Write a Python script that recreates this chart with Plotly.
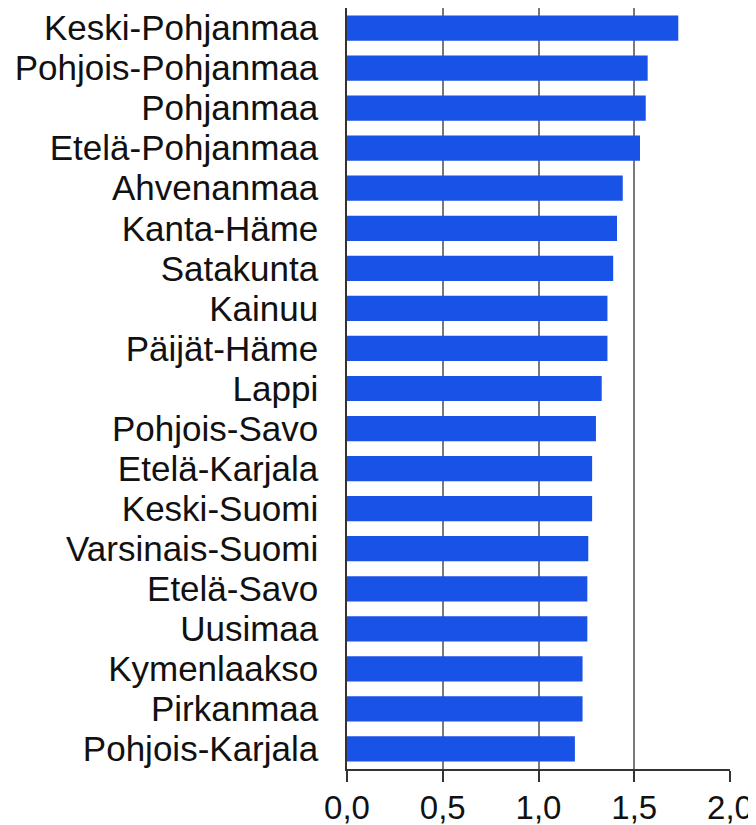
import plotly.graph_objects as go

regions = [
    "Keski-Pohjanmaa", "Pohjois-Pohjanmaa", "Pohjanmaa", "Etelä-Pohjanmaa",
    "Ahvenanmaa", "Kanta-Häme", "Satakunta", "Kainuu", "Päijät-Häme", "Lappi",
    "Pohjois-Savo", "Etelä-Karjala", "Keski-Suomi", "Varsinais-Suomi",
    "Etelä-Savo", "Uusimaa", "Kymenlaakso", "Pirkanmaa", "Pohjois-Karjala",
]
values = [
    1.73, 1.57, 1.56, 1.53,
    1.44, 1.41, 1.39, 1.36, 1.36, 1.33,
    1.30, 1.28, 1.28, 1.26,
    1.255, 1.255, 1.23, 1.23, 1.19,
]
x_ticks = [0.0, 0.5, 1.0, 1.5, 2.0]

BAR_BLUE = "#1852E6"
FONT = "Liberation Sans, Arial, sans-serif"

fig = go.Figure(go.Bar(
    x=values, y=regions, orientation="h",
    marker=dict(color=BAR_BLUE, line_width=0),
))

# page body keeps an 8px margin, so the figure is a bit smaller and shifted
fig.update_layout(
    width=748, height=817,
    margin=dict(l=339, r=26, t=0, b=56, autoexpand=False),
    paper_bgcolor="white", plot_bgcolor="white",
    bargap=0.37,
    separators=", ",
    showlegend=False,
    font=dict(family=FONT, size=35, color="#111111"),
)
fig.update_xaxes(
    range=[0, 2.0], tickvals=x_ticks, tickformat=".1f",
    showgrid=True, gridcolor="#7a7a7a", gridwidth=1.5,
    showline=True, linecolor="#333333", linewidth=1.5,
    ticks="outside", ticklen=11, tickcolor="#333333", tickwidth=1.5,
    zeroline=False, fixedrange=True, automargin=False,
    ticklabelstandoff=-2,
    tickfont=dict(size=33),
)
fig.update_yaxes(
    categoryorder="array", categoryarray=regions[::-1],
    tickmode="array", tickvals=regions,
    showgrid=False, zeroline=False, automargin=False,
    showline=True, linecolor="#333333", linewidth=1.5,
    ticks="", ticklabelstandoff=20,
    tickfont=dict(size=35),
)

fig.write_html("out.html")
